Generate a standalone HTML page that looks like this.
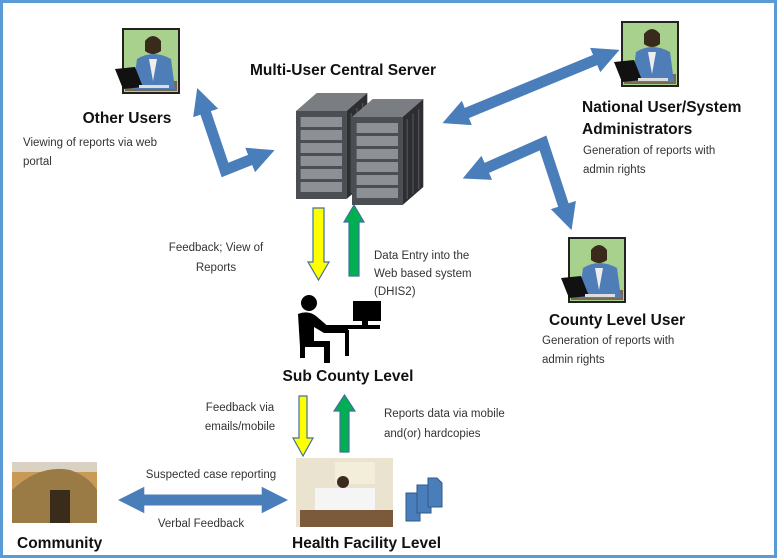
<!DOCTYPE html>
<html><head><meta charset="utf-8"><style>
html,body{margin:0;padding:0;background:#fff}
svg{display:block}
text{font-family:"Liberation Sans",sans-serif;fill:#111}
.b{font-weight:bold;font-size:15.5px}
.s{font-size:11.5px;fill:#333}
</style></head><body>
<svg width="778" height="560" viewBox="0 0 778 560" xmlns="http://www.w3.org/2000/svg">
<defs>
<marker id="ah" viewBox="0 0 10 10" refX="2" refY="5" markerWidth="2.4" markerHeight="2.6" orient="auto-start-reverse">
<path d="M0,0 L10,5 L0,10 z" fill="#4a7ebb"/>
</marker>
<g id="user">
<rect x="0" y="0" width="56" height="64" fill="#a9d18e" stroke="#222" stroke-width="2"/>
<rect x="2" y="52" width="52" height="10" fill="#7a6a55"/>
<path d="M22,12 q8,-10 16,0 l0,10 q-8,6 -16,0z" fill="#3a2a1c"/>
<path d="M10,60 L14,30 q16,-10 34,0 L52,60z" fill="#4f7db8"/>
<path d="M26,30 l4,22 l4,-22z" fill="#eee"/>
<path d="M-8,40 L12,38 L20,58 L0,60z" fill="#111"/>
<rect x="16" y="56" width="30" height="3" fill="#ddd"/>
</g>
<g id="box">
<polygon points="0,18 18,0 62,0 44,18" fill="#7a7d82"/>
<polygon points="44,18 62,0 62,88 44,106" fill="#2c2e31"/>
<rect x="0" y="18" width="44" height="88" fill="#4b4e52"/>
<g fill="#8d9095">
<rect x="4" y="24" width="36" height="10"/><rect x="4" y="37" width="36" height="10"/>
<rect x="4" y="50" width="36" height="10"/><rect x="4" y="63" width="36" height="10"/>
<rect x="4" y="76" width="36" height="10"/><rect x="4" y="89" width="36" height="10"/>
</g>
<g stroke="#555" stroke-width="1"><line x1="48" y1="20" x2="48" y2="100"/><line x1="53" y1="15" x2="53" y2="95"/><line x1="58" y1="10" x2="58" y2="90"/></g>
</g>
</defs>
<rect x="1.5" y="1.5" width="774" height="555" fill="none" stroke="#5b9bd5" stroke-width="3"/>

<use href="#user" x="123" y="29"/>
<use href="#user" x="622" y="22"/>
<use href="#user" x="569" y="238"/>

<use href="#box" transform="translate(296,93) scale(1.15,1)"/>
<use href="#box" transform="translate(352,99) scale(1.15,1)"/>

<text class="b" x="343" y="75" text-anchor="middle">Multi-User Central Server</text>
<text class="b" x="127" y="123" text-anchor="middle">Other Users</text>
<text class="s" x="23" y="146">Viewing of reports  via web</text>
<text class="s" x="23" y="165">portal</text>
<text class="b" x="582" y="112">National User/System</text>
<text class="b" x="582" y="134">Administrators</text>
<text class="s" x="583" y="154">Generation of reports with</text>
<text class="s" x="583" y="173">admin rights</text>
<text class="b" x="549" y="325">County Level User</text>
<text class="s" x="542" y="344">Generation of reports with</text>
<text class="s" x="542" y="363">admin rights</text>
<text class="s" x="216" y="251" text-anchor="middle">Feedback; View of</text>
<text class="s" x="216" y="271" text-anchor="middle">Reports</text>
<text class="s" x="374" y="259">Data Entry into the</text>
<text class="s" x="374" y="277">Web based system</text>
<text class="s" x="374" y="295">(DHIS2)</text>
<text class="b" x="348" y="381" text-anchor="middle">Sub County Level</text>
<text class="s" x="240" y="411" text-anchor="middle">Feedback via</text>
<text class="s" x="240" y="430" text-anchor="middle">emails/mobile</text>
<text class="s" x="384" y="417">Reports data via mobile</text>
<text class="s" x="384" y="437">and(or) hardcopies</text>
<text class="s" x="211" y="478" text-anchor="middle">Suspected case reporting</text>
<text class="s" x="201" y="527" text-anchor="middle">Verbal Feedback</text>
<text class="b" x="17" y="548">Community</text>
<text class="b" x="292" y="548">Health Facility Level</text>

<g fill="none" stroke="#4a7ebb" stroke-width="11">
<polyline points="204,108 225,170 255,158" marker-start="url(#ah)" marker-end="url(#ah)"/>
<line x1="462" y1="115" x2="600" y2="58" marker-start="url(#ah)" marker-end="url(#ah)"/>
<polyline points="482,170 543,143 565,210" marker-start="url(#ah)" marker-end="url(#ah)"/>
<line x1="139" y1="500" x2="267" y2="500" marker-start="url(#ah)" marker-end="url(#ah)"/>
</g>

<g stroke="#41719c" stroke-width="1.2">
<polygon points="313,208 324,208 324,262 329,262 318.5,280 308,262 313,262" fill="#ffff00"/>
<polygon points="354,205 364,222 359,222 359,276 349,276 349,222 344,222" fill="#00b050"/>
<polygon points="299,396 307,396 307,438 313,438 303,456 293,438 299,438" fill="#ffff00"/>
<polygon points="344.5,395 355,411 349,411 349,452 340,452 340,411 334,411" fill="#00b050"/>
</g>

<g fill="#000">
<circle cx="309" cy="303" r="8"/>
<path d="M298,314 q10,-4 18,2 l14,12 h18 v5 h-24 l-10,-6 v14 h16 v22 h-6 v-16 h-24 z"/>
<rect x="322" y="325" width="58" height="4"/>
<rect x="353" y="301" width="28" height="20"/>
<rect x="362" y="320" width="6" height="6"/>
<rect x="300" y="346" width="5" height="12"/>
<rect x="345" y="330" width="4" height="26"/>
</g>

<rect x="12" y="462" width="85" height="61" fill="#c99a55"/>
<rect x="12" y="462" width="85" height="10" fill="#d9d2c2"/>
<path d="M12,490 Q40,464 70,470 Q88,476 97,490 L97,523 L12,523z" fill="#9a7a45"/>
<rect x="50" y="490" width="20" height="33" fill="#3a2c1a"/>

<rect x="296" y="458" width="97" height="69" fill="#e9e3d0"/>
<rect x="335" y="462" width="40" height="22" fill="#f3eeda"/>
<rect x="300" y="510" width="93" height="17" fill="#7a5a3a"/>
<rect x="315" y="488" width="60" height="22" fill="#f5f5f5"/>
<circle cx="343" cy="482" r="6" fill="#3a2a20"/>

<g fill="#4a7ebb" stroke="#2e5a8a" stroke-width="1">
<path d="M406,493 h14 v28 h-14z"/>
<path d="M417,485 h14 v28 h-14z"/>
<path d="M428,478 h9 l5,5 v24 h-14z"/>
</g>
</svg>
</body></html>
